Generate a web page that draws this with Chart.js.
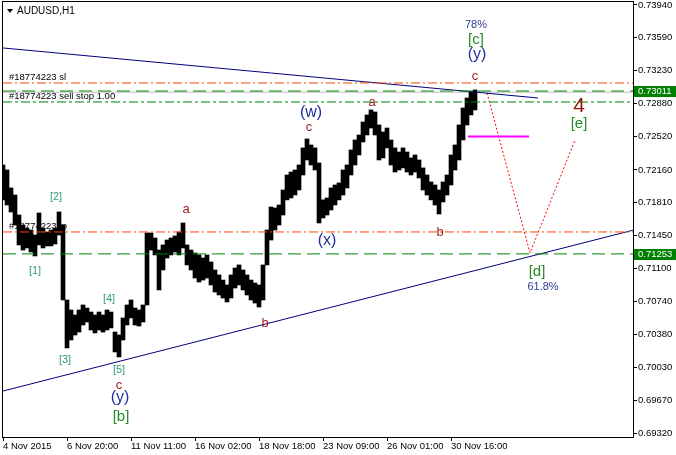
<!DOCTYPE html>
<html>
<head>
<meta charset="utf-8">
<title>AUDUSD,H1</title>
<script src="https://cdn.jsdelivr.net/npm/chart.js@4.4.0/dist/chart.umd.min.js"></script>
<style>
    html, body { margin: 0; padding: 0; background: #fff; }
    #wrap { width: 676px; height: 455px; position: relative; }
</style>
</head>
<body>
<div id="wrap"><canvas id="chart"></canvas></div>
<script>
// ============================================
// AUDUSD H1 - Elliott wave count
// ============================================

// Price bars, one range every 4 hourly bars (high / low)
const BAR_STEP = 4;
const barHighs = [
    0.72213, 0.72159, 0.71965, 0.71889, 0.71673, 0.71565, 0.71533, 0.71511, 0.71457, 0.71695,
    0.71533, 0.71490, 0.71511, 0.71533, 0.71706, 0.71565, 0.70756, 0.70648, 0.70594, 0.70648,
    0.70702, 0.70669, 0.70626, 0.70594, 0.70626, 0.70594, 0.70648, 0.70626, 0.70410, 0.70378,
    0.70562, 0.70702, 0.70756, 0.70669, 0.70648, 0.70702, 0.71479, 0.71479, 0.71425, 0.71295,
    0.71350, 0.71403, 0.71425, 0.71447, 0.71490, 0.71587, 0.71350, 0.71295, 0.71263, 0.71242,
    0.71209, 0.71242, 0.71166, 0.71080, 0.71026, 0.70971, 0.70918, 0.71026, 0.71101, 0.71134,
    0.71080, 0.71026, 0.70971, 0.70939, 0.70918, 0.71134, 0.71511, 0.71760, 0.71749, 0.71781,
    0.71943, 0.72105, 0.72137, 0.72159, 0.72213, 0.72397, 0.72494, 0.72429, 0.72397, 0.72235,
    0.71836, 0.71857, 0.71965, 0.71997, 0.72019, 0.72159, 0.72213, 0.72375, 0.72483, 0.72537,
    0.72677, 0.72753, 0.72807, 0.72785, 0.72645, 0.72569, 0.72612, 0.72483, 0.72397, 0.72353,
    0.72397, 0.72353, 0.72289, 0.72321, 0.72267, 0.72181, 0.72105, 0.72030, 0.71997, 0.71943,
    0.72030, 0.72105, 0.72321, 0.72429, 0.72645, 0.72828, 0.72936, 0.73001, 0.73023
];
const barLows = [
    0.71836, 0.71781, 0.71706, 0.71565, 0.71350, 0.71295, 0.71317, 0.71274, 0.71231, 0.71350,
    0.71317, 0.71339, 0.71339, 0.71360, 0.71457, 0.70756, 0.70238, 0.70324, 0.70378, 0.70410,
    0.70486, 0.70518, 0.70432, 0.70400, 0.70432, 0.70410, 0.70432, 0.70454, 0.70195, 0.70141,
    0.70324, 0.70486, 0.70562, 0.70486, 0.70475, 0.70518, 0.70702, 0.71295, 0.71242, 0.70864,
    0.71080, 0.71209, 0.71242, 0.71274, 0.71242, 0.71317, 0.71134, 0.71080, 0.70993, 0.70950,
    0.70971, 0.70993, 0.70918, 0.70842, 0.70810, 0.70777, 0.70734, 0.70777, 0.70885, 0.70918,
    0.70864, 0.70810, 0.70756, 0.70723, 0.70680, 0.70756, 0.71134, 0.71403, 0.71511, 0.71565,
    0.71673, 0.71836, 0.71857, 0.71889, 0.71943, 0.72105, 0.72267, 0.72213, 0.72159, 0.71587,
    0.71641, 0.71673, 0.71727, 0.71781, 0.71836, 0.71889, 0.71965, 0.72105, 0.72213, 0.72321,
    0.72461, 0.72537, 0.72612, 0.72537, 0.72267, 0.72289, 0.72397, 0.72213, 0.72137, 0.72159,
    0.72181, 0.72137, 0.72105, 0.72137, 0.72073, 0.71943, 0.71889, 0.71836, 0.71781, 0.71684,
    0.71814, 0.71889, 0.71997, 0.72159, 0.72267, 0.72483, 0.72645, 0.72753, 0.72807
];

// Time axis (hour index of each label)
const LAST_HOUR = 630;
const timeTickHours = [0, 64, 128, 192, 256, 320, 384, 448];
const timeTickLabels = ['4 Nov 2015', '6 Nov 20:00', '11 Nov 11:00', '16 Nov 02:00',
    '18 Nov 18:00', '23 Nov 09:00', '26 Nov 01:00', '30 Nov 16:00'];

// Price axis
const PRICE_MIN = 0.69277;
const PRICE_MAX = 0.73972;
const priceTicks = [0.73940, 0.73590, 0.73230, 0.72880, 0.72520, 0.72160, 0.71810,
    0.71450, 0.71100, 0.70740, 0.70380, 0.70030, 0.69670, 0.69320];

// Horizontal levels
const levelSl = 0.73098;
const levelBid = 0.72998;
const levelUpper = 0.73011;
const levelSellStop = 0.72893;
const levelTp = 0.71490;
const levelLower = 0.71253;
const badgeLevels = [levelUpper, levelLower];

// Order line captions
const orderTexts = ['#18774223 sl', '#18774223 sell stop 1.00', '#18774223 tp'];
const orderLevels = [levelSl, levelSellStop, levelTp];

// Trend lines and projections
const upperTrendHours = [0, 535];
const upperTrendPrices = [0.73476, 0.72936];
const lowerTrendHours = [0, 630];
const lowerTrendPrices = [0.69773, 0.71509];
const targetHours = [465, 526];
const targetPrices = [0.72521, 0.72521];
const projHours = [484, 527, 572];
const projPrices = [0.72990, 0.71263, 0.72483];

// Wave labels
const waveTexts = ['78%', '[c]', '(y)', 'c', '4', '[e]', '(w)', 'c', 'a', '(x)', 'b', '[d]', '61.8%',
    'b', 'a', '[2]', '[1]', '[3]', '[4]', '[5]', 'c', '(y)', '[b]'];
const waveHours = [473, 473, 474, 472, 576, 576, 308, 306, 369, 324, 437, 534, 540,
    262, 183, 53, 32, 62, 106, 116, 116, 117, 118];
const wavePrices = [0.73724, 0.73562, 0.73400, 0.73174, 0.72850, 0.72656, 0.72774, 0.72623,
    0.72893, 0.71393, 0.71490, 0.71058, 0.70896, 0.70508, 0.71738, 0.71868, 0.71069, 0.70108,
    0.70767, 0.70000, 0.69838, 0.69698, 0.69493];
const waveKinds = ['pct', 'cycle', 'paren', 'sub', 'big', 'cycle', 'paren', 'sub', 'sub', 'paren', 'sub',
    'cycle', 'pct', 'sub', 'sub', 'minor', 'minor', 'minor', 'minor', 'minor', 'sub', 'paren', 'cycle'];

// Styles
const FONT = "'Liberation Sans', Arial, sans-serif";
const waveStyles = {
    pct:   { color: '#2b3a9a', size: 11 },
    cycle: { color: '#2a8a2a', size: 15 },
    paren: { color: '#1f2f9f', size: 16 },
    sub:   { color: '#9a1a1a', size: 13 },
    big:   { color: '#8b1500', size: 21 },
    minor: { color: '#2e9c7e', size: 11 }
};
const colors = {
    navy: '#000080',
    orange: '#ff4500',
    green: '#008000',
    silver: '#c0c0c0',
    magenta: '#ff00ff',
    red: '#ff0000'
};

const toPoints = (xs, ys) => xs.map((x, i) => ({ x: x, y: ys[i] }));
const flat = (y) => [{ x: 0, y: y }, { x: LAST_HOUR, y: y }];

function lineSet(points, color, dash, width, order) {
    return {
        type: 'line',
        data: points,
        borderColor: color,
        borderWidth: width || 1,
        borderDash: dash || [],
        pointRadius: 0,
        tension: 0,
        fill: false,
        order: order === undefined ? 1 : order
    };
}

// no label overhang padding, the frame sits at fixed pixels
function fixPadding(s) {
    s.paddingTop = 0;
    s.paddingBottom = 0;
    s.paddingLeft = 0;
    s.paddingRight = 0;
}

// Drawing extras on top of the chart
const overlay = {
    id: 'overlay',
    beforeDatasetsDraw(chart) {
        const ctx = chart.ctx;
        const y = chart.scales.y;
        ctx.save();
        ctx.font = '9.5px ' + FONT;
        ctx.fillStyle = '#000';
        ctx.textAlign = 'left';
        ctx.textBaseline = 'middle';
        orderTexts.forEach((t, i) => {
            ctx.fillText(t, 9, y.getPixelForValue(orderLevels[i]) - 6);
        });
        ctx.restore();
    },
    afterDatasetsDraw(chart) {
        const ctx = chart.ctx;
        const xs = chart.scales.x;
        const ys = chart.scales.y;
        ctx.save();
        ctx.textAlign = 'center';
        ctx.textBaseline = 'middle';
        waveTexts.forEach((t, i) => {
            const st = waveStyles[waveKinds[i]];
            ctx.font = st.size + 'px ' + FONT;
            ctx.fillStyle = st.color;
            ctx.fillText(t, xs.getPixelForValue(waveHours[i]), ys.getPixelForValue(wavePrices[i]));
        });
        ctx.restore();
    },
    afterDraw(chart) {
        const ctx = chart.ctx;
        const a = chart.chartArea;
        const ys = chart.scales.y;
        ctx.save();
        // frame
        ctx.strokeStyle = '#000';
        ctx.lineWidth = 1;
        ctx.strokeRect(a.left - 0.5, a.top - 0.5, a.right - a.left + 1, a.bottom - a.top + 1);

        // price badges
        ctx.font = '9.5px ' + FONT;
        ctx.textAlign = 'left';
        ctx.textBaseline = 'middle';
        badgeLevels.forEach(v => {
            const py = Math.round(ys.getPixelForValue(v));
            ctx.fillStyle = colors.green;
            ctx.fillRect(a.right + 1, py - 5, 676 - a.right, 11);
            ctx.fillStyle = '#fff';
            ctx.fillText(v.toFixed(5), a.right + 5, py + 0.5);
        });

        // symbol caption
        ctx.fillStyle = '#000';
        ctx.beginPath();
        ctx.moveTo(7, 9);
        ctx.lineTo(13, 9);
        ctx.lineTo(10, 13);
        ctx.closePath();
        ctx.fill();
        ctx.font = '10px ' + FONT;
        ctx.fillText('AUDUSD,H1', 17, 11);
        ctx.restore();
    }
};

const ctx = document.getElementById('chart');

new Chart(ctx, {
    type: 'bar',
    data: {
        datasets: [
            lineSet(flat(levelBid), colors.silver, [], 1, 3),
            lineSet(flat(levelSl), colors.orange, [9, 3, 2, 3]),
            lineSet(flat(levelUpper), colors.green, [13, 6]),
            lineSet(flat(levelSellStop), colors.green, [9, 3, 3, 3]),
            lineSet(flat(levelTp), colors.orange, [9, 3, 2, 3]),
            lineSet(flat(levelLower), colors.green, [13, 6]),
            lineSet(toPoints(upperTrendHours, upperTrendPrices), colors.navy),
            lineSet(toPoints(lowerTrendHours, lowerTrendPrices), colors.navy),
            lineSet(toPoints(targetHours, targetPrices), colors.magenta, [], 2),
            lineSet(toPoints(projHours, projPrices), colors.red, [2, 2]),
            {
                type: 'bar',
                data: barHighs.map((h, i) => ({ x: i * BAR_STEP, y: [barLows[i], h] })),
                backgroundColor: '#000',
                borderWidth: 0,
                barThickness: 4,
                order: 2
            }
        ]
    },
    options: {
        responsive: true,
        maintainAspectRatio: false,
        animation: false,
        events: [],
        layout: { padding: { left: 3, top: 2, right: 0, bottom: 0 } },
        plugins: {
            legend: { display: false },
            tooltip: { enabled: false }
        },
        scales: {
            x: {
                type: 'linear',
                min: 0,
                max: LAST_HOUR,
                offset: false,
                afterBuildTicks: (s) => { s.ticks = timeTickHours.map(v => ({ value: v })); },
                afterFit: (s) => { s.height = 18; fixPadding(s); },
                grid: { drawOnChartArea: false, drawTicks: true, tickLength: 4, color: '#000', offset: false },
                border: { display: false },
                ticks: {
                    autoSkip: false,
                    maxRotation: 0,
                    minRotation: 0,
                    align: 'start',
                    padding: 0,
                    color: '#000',
                    font: { family: FONT, size: 9.5 },
                    callback: (v) => timeTickLabels[timeTickHours.indexOf(v)]
                }
            },
            y: {
                type: 'linear',
                position: 'right',
                min: PRICE_MIN,
                max: PRICE_MAX,
                afterBuildTicks: (s) => { s.ticks = priceTicks.map(v => ({ value: v })); },
                afterFit: (s) => { s.width = 43; fixPadding(s); },
                grid: { drawOnChartArea: false, drawTicks: true, tickLength: 4, color: '#000' },
                border: { display: false },
                ticks: {
                    padding: 1,
                    color: '#000',
                    font: { family: FONT, size: 9.5 },
                    callback: (v) => Number(v).toFixed(5)
                }
            }
        }
    },
    plugins: [overlay]
});
</script>
</body>
</html>
